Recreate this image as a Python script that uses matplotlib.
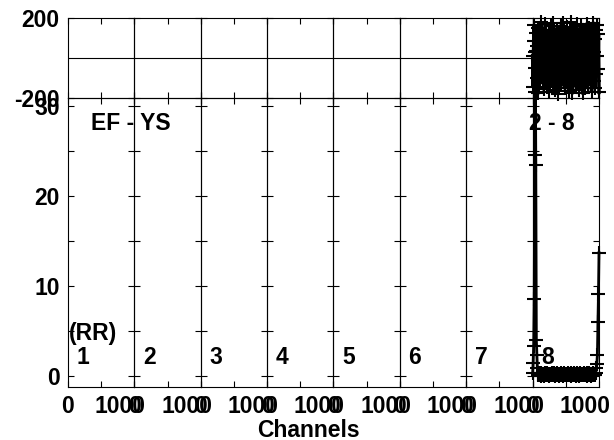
import numpy as np
import matplotlib
matplotlib.use('Agg')
import matplotlib.pyplot as plt
from matplotlib.transforms import ScaledTranslation

#%% Data: spectrum of baseline 2 - 8 (last panel), other panels empty
panelNames = ['1', '2', '3', '4', '5', '6', '7', '8']
xtickLabels = ['0', '', '1000']
ytickAmp = [0, 5, 10, 15, 20, 25, 30]
ytickAmpLabels = ['0', '', '10', '', '20', '', '30']
ytickPh = [-200, 200]

# amplitude, every 8th channel 0..1000
ampHead = [0.3, 1.5, 3.4, 8.6, 24.5, 36.0, 23.4, 4.0, 2.3, 0.9]
ampBand = [0.21, 0.08, 0.30, 0.15, 0.26, 0.05, 0.33, 0.12, 0.19, 0.28,
           0.10, 0.24, 0.07, 0.31, 0.17, 0.22, 0.09, 0.35, 0.14, 0.27,
           0.06, 0.20, 0.29, 0.11, 0.25, 0.16, 0.32, 0.08, 0.23, 0.13,
           0.30, 0.18, 0.05, 0.26, 0.12, 0.34, 0.09, 0.21, 0.28, 0.15,
           0.07, 0.24, 0.19, 0.31, 0.10, 0.27, 0.14, 0.22, 0.06, 0.33,
           0.17, 0.25, 0.11, 0.29, 0.08, 0.20, 0.36, 0.13, 0.26, 0.09,
           0.23, 0.16, 0.30, 0.05, 0.28, 0.12, 0.19, 0.32, 0.10, 0.25,
           0.14, 0.07, 0.27, 0.21, 0.34, 0.11, 0.18, 0.29, 0.06, 0.24,
           0.31, 0.13, 0.22, 0.09, 0.26, 0.17, 0.35, 0.08, 0.20, 0.28,
           0.12, 0.25, 0.05, 0.30, 0.16, 0.23, 0.10, 0.33, 0.19, 0.07,
           0.27, 0.14, 0.21, 0.32, 0.11, 0.26, 0.18, 0.09, 0.29]
ampTail = [0.4, 0.9, 1.4, 2.3, 6.0, 9.1, 13.7]
amp = np.array(ampHead + ampBand + ampTail)
chanAmp = np.arange(0, 1001, 8)

# phase (deg), same channels
phase = np.array([12, -143, 87, 165, -52, -171, 33, 124, -98, 61, -177, 149, -15, 72,
         -126, 178, -64, 5, 139, -111, 94, -157, 27, -39, 168, -84, 113, -3,
         -146, 56, 131, -170, 79, -22, 158, -117, 41, -68, 175, -132, 18, 102,
         -89, -161, 66, 147, -45, 9, -179, 121, -76, 84, -8, 162, -137, 47,
         -103, 173, 31, -58, 136, -152, 92, -30, 155, -120, 70, 3, -166, 110,
         -93, 24, 179, -49, 128, -175, 58, -11, 143, -108, 81, -140, 37, 169,
         -71, 99, -27, -159, 117, 14, -124, 160, -36, 75, -176, 52, 134, -87,
         20, -150, 106, -62, 171, -16, 88, -133, 44, 152, -100, -5, 127, -168,
         63, -42, 176, -115, 29, 96, -148, 141, -80, 8, 164, -55, 119, -172])
chanPh = np.linspace(0, 1000, len(phase))

#%% Style
plt.rcParams['font.family'] = 'Liberation Sans'
plt.rcParams['font.weight'] = 'bold'
plt.rcParams['font.size'] = 16.5

W, H = 614., 440.
fig = plt.figure(figsize=(W/100, H/100), dpi=100)
gs = fig.add_gridspec(2, 8, left=68/W, right=599/W, top=1-18/H, bottom=1-387/H,
                      height_ratios=[80, 289], wspace=0, hspace=0)

shift = ScaledTranslation(-14/100., 0, fig.dpi_scale_trans)

for k in range(8):
    axp = fig.add_subplot(gs[0, k])
    axa = fig.add_subplot(gs[1, k])
    for ax in (axp, axa):
        ax.set_facecolor('none')
        ax.set_xlim(0, 1000)
        ax.set_xticks([0, 500, 1000])
        ax.tick_params(direction='in', top=True, right=True, length=4.5,
                       width=0.8, labelsize=16.5)
        ax.tick_params(axis='y', pad=6)
        ax.tick_params(axis='x', pad=6)
        for s in ax.spines.values():
            s.set_linewidth(0.8)
    axp.set_ylim(-200, 200)
    axp.set_yticks(ytickPh)
    axp.axhline(0, color='k', lw=0.8)
    axp.tick_params(labelbottom=False)
    axa.set_ylim(-1.2, 30.85)
    axa.set_yticks(ytickAmp)
    axa.set_xticklabels(xtickLabels)
    axa.get_xticklabels()[2].set_transform(axa.get_xticklabels()[2].get_transform() + shift)
    if k == 0:
        axp.set_yticklabels([str(v) for v in ytickPh])
        axa.set_yticklabels(ytickAmpLabels)
        axa.text(15, 4.75, '(RR)', va='center')
        axa.text(340, 28, 'EF - YS', va='center')
    else:
        axp.tick_params(labelleft=False)
        axa.tick_params(labelleft=False)
    axa.text(130, 2.1, panelNames[k], va='center')
    if k == 7:
        axp.plot(chanPh, phase, 'k+-', lw=2.5, ms=10, mew=1.5, clip_on=False)
        axa.plot(chanAmp, amp, 'k+-', lw=2.0, ms=10, mew=1.5, clip_on=False)
        axa.text(-60, 28, '2 - 8', va='center')

fig.text(308/W, 1-430/H, 'Channels', ha='center', va='center')

fig.savefig('out.png', dpi=100)
